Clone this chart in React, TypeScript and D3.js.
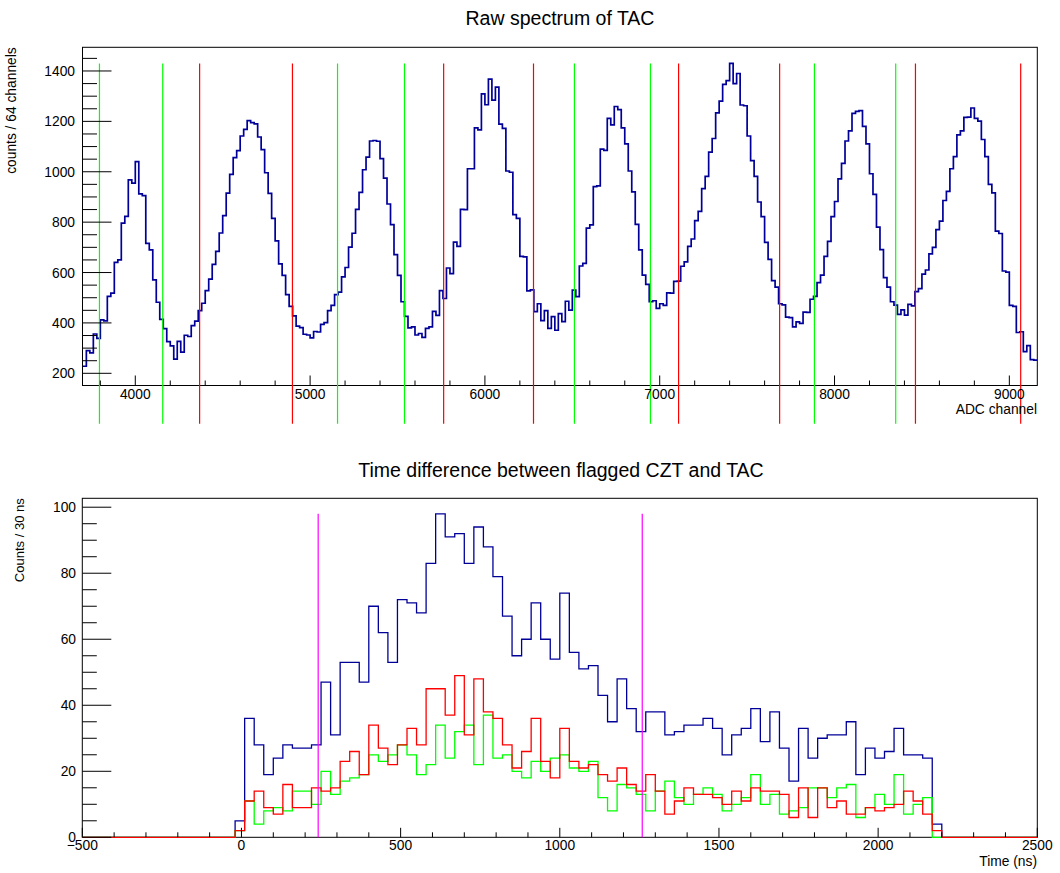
import React from 'react';
import * as d3 from 'd3';

// Raw TAC spectrum, 20 ADC channels per stored bin, first bin starts at 3700
const SPEC_START = 3700;
const SPEC_BIN = 20;
const specCounts: number[] = [
  228, 290, 281, 356, 339, 412, 408, 505, 518, 640,
  650, 796, 823, 968, 955, 1040, 912, 905, 716, 690,
  571, 482, 414, 377, 326, 309, 256, 327, 284, 351,
  346, 389, 407, 449, 478, 528, 574, 632, 684, 757,
  826, 915, 990, 1056, 1084, 1142, 1168, 1203, 1195, 1190,
  1138, 1088, 996, 914, 815, 726, 634, 589, 512, 466,
  428, 387, 381, 355, 352, 341, 366, 364, 394, 401,
  449, 470, 512, 522, 583, 620, 701, 756, 851, 918,
  1008, 1058, 1122, 1124, 1121, 1052, 975, 872, 790, 671,
  589, 484, 426, 380, 384, 352, 358, 343, 378, 384,
  446, 430, 528, 497, 618, 596, 721, 704, 851, 850,
  1012, 1012, 1174, 1166, 1309, 1266, 1368, 1284, 1336, 1189,
  1172, 1003, 998, 830, 815, 664, 662, 527, 531, 445,
  476, 409, 449, 378, 425, 371, 437, 405, 486, 451,
  530, 504, 626, 636, 776, 789, 941, 944, 1090, 1085,
  1212, 1186, 1259, 1247, 1174, 1111, 1003, 920, 791, 690,
  590, 553, 484, 488, 458, 476, 470, 519, 518, 565,
  566, 625, 642, 704, 733, 806, 843, 933, 982, 1078,
  1132, 1234, 1280, 1347, 1362, 1430, 1350, 1390, 1265, 1262,
  1142, 1044, 982, 880, 822, 720, 652, 568, 542, 476,
  472, 423, 421, 384, 404, 398, 443, 442, 494, 505,
  560, 590, 664, 724, 822, 882, 972, 1033, 1122, 1162,
  1232, 1240, 1243, 1180, 1111, 992, 910, 780, 691, 580,
  542, 484, 471, 434, 452, 431, 474, 468, 524, 536,
  594, 610, 674, 700, 770, 804, 886, 922, 1012, 1060,
  1146, 1162, 1216, 1217, 1253, 1212, 1201, 1128, 1060, 950,
  916, 764, 755, 606, 602, 470, 466, 362, 365, 286,
  310, 254, 252,
];

// cut positions drawn on top of the spectrum
const greenCuts = [3795, 4157, 5157, 5540, 6512, 6947, 7885, 8350];
const redCuts = [4368, 4899, 5764, 6278, 7108, 7686, 8463, 9065];

const specXTicks = [4000, 5000, 6000, 7000, 8000, 9000];
const specYTicks = [200, 400, 600, 800, 1000, 1200, 1400];

// time difference histograms, 30 ns bins, first filled bin starts at -20 ns
const DT_MIN = -500;
const DT_MAX = 2500;
const DT_START = -20;
const DT_BIN = 30;
const dtAll = [
  5, 36, 28, 19, 24, 28, 27, 27, 28, 47,
  31, 53, 53, 47, 70, 62, 53, 72, 71, 68,
  83, 98, 91, 92, 83, 94, 88, 79, 67, 55,
  60, 71, 60, 54, 74, 56, 51, 52, 43, 35,
  48, 39, 32, 38, 38, 31, 32, 34, 34, 36,
  33, 25, 31, 33, 39, 29, 38, 27, 17, 33,
  24, 30, 31, 31, 35, 19, 27, 24, 26, 33,
  25, 25, 24, 4,
];
const dtGreen = [
  2, 11, 4, 8, 9, 8, 14, 14, 10, 20,
  13, 17, 18, 19, 25, 23, 25, 28, 25, 19,
  22, 34, 24, 32, 34, 22, 37, 24, 25, 20,
  18, 23, 20, 24, 25, 21, 20, 23, 12, 8,
  16, 15, 13, 8, 14, 17, 12, 10, 13, 15,
  13, 8, 10, 12, 19, 10, 13, 7, 8, 9,
  15, 15, 12, 15, 16, 6, 9, 13, 10, 19,
  7, 10, 12, 0,
];
const dtRed = [
  2, 11, 14, 9, 7, 16, 9, 9, 15, 14,
  15, 23, 26, 19, 34, 27, 22, 28, 33, 28,
  45, 45, 37, 49, 31, 48, 38, 36, 28, 21,
  26, 36, 23, 18, 33, 23, 21, 22, 19, 17,
  21, 16, 14, 19, 14, 7, 11, 15, 13, 13,
  12, 10, 14, 11, 15, 14, 14, 13, 6, 15,
  6, 15, 9, 11, 7, 7, 9, 8, 9, 10,
  14, 11, 7, 2,
];
const dtWindow = [241, 1259];

const dtXTicks = [-500, 0, 500, 1000, 1500, 2000, 2500];
const dtYTicks = [0, 20, 40, 60, 80, 100];

const FONT = '"Liberation Sans", Arial, Helvetica, sans-serif';
const NAVY = '#000099';

// top pad frame
const T = { left: 82.5, right: 1037.3, top: 47.3, bottom: 385.5 };
// bottom pad frame
const B = { left: 82.3, right: 1037.3, top: 498.3, bottom: 837.3 };

function stepPath(
  start: number, bin: number, counts: number[],
  x: d3.ScaleLinear<number, number>, y: d3.ScaleLinear<number, number>,
) {
  const pts: [number, number][] = counts.map((c, i) => [start + i * bin, c]);
  pts.push([start + counts.length * bin, counts[counts.length - 1]]);
  return d3.line<[number, number]>()
    .x(d => x(d[0]))
    .y(d => y(d[1]))
    .curve(d3.curveStepAfter)(pts) as string;
}

// pad the filled part with empty bins over the whole axis range
function fullHist(counts: number[]) {
  const n = Math.round((DT_MAX - DT_MIN) / DT_BIN);
  const offset = Math.round((DT_START - DT_MIN) / DT_BIN);
  return d3.range(n).map(i => {
    const k = i - offset;
    return k >= 0 && k < counts.length ? counts[k] : 0;
  });
}

export default function App() {
  const x1 = d3.scaleLinear().domain([3698, 9160]).range([T.left, T.right]);
  const y1 = d3.scaleLinear().domain([151.6, 1494]).range([T.bottom, T.top]);
  const x2 = d3.scaleLinear().domain([DT_MIN, DT_MAX]).range([B.left, B.right]);
  const y2 = d3.scaleLinear().domain([0, 102.7]).range([B.bottom, B.top]);

  const specMinorX = d3.range(3800, 9160, 200).filter(v => v % 1000 !== 0);
  const specMinorY = d3.range(200, 1494, 50).filter(v => v % 200 !== 0);
  const dtMinorX = d3.range(-400, 2500, 100).filter(v => v % 500 !== 0);
  const dtMinorY = d3.range(5, 102.7, 5).filter(v => v % 20 !== 0);

  const cutTop = d3.max(specCounts) as number;
  const winTop = d3.max(dtAll) as number;

  const text = { fontFamily: FONT, fill: '#000' } as const;

  return (
    <div style={{ position: 'absolute', left: 0, top: 0 }}>
      <svg width={1060} height={873} style={{ display: 'block', background: '#fff' }}>
        {/* ---------- top pad ---------- */}
        <text x={560} y={25} textAnchor="middle" fontSize={19.5} {...text}>Raw spectrum of TAC</text>

        <rect x={T.left} y={T.top} width={T.right - T.left} height={T.bottom - T.top} fill="none" stroke="#000" strokeWidth={1} />

        <path d={stepPath(SPEC_START, SPEC_BIN, specCounts, x1, y1)} fill="none" stroke={NAVY} strokeWidth={1.7} />

        {greenCuts.map(v => (
          <line key={'g' + v} x1={x1(v)} x2={x1(v)} y1={y1(cutTop)} y2={y1(0)} stroke="#00ff00" strokeWidth={1.2} />
        ))}
        {redCuts.map(v => (
          <line key={'r' + v} x1={x1(v)} x2={x1(v)} y1={y1(cutTop)} y2={y1(0)} stroke="#ff0000" strokeWidth={1.2} />
        ))}

        {specXTicks.map(v => (
          <g key={'sx' + v}>
            <line x1={x1(v)} x2={x1(v)} y1={T.bottom} y2={T.bottom - 10} stroke="#000" />
            <text x={x1(v)} y={399} textAnchor="middle" fontSize={13.8} {...text}>{v}</text>
          </g>
        ))}
        {specMinorX.map(v => (
          <line key={'smx' + v} x1={x1(v)} x2={x1(v)} y1={T.bottom} y2={T.bottom - 5} stroke="#000" />
        ))}
        {specYTicks.map(v => (
          <g key={'sy' + v}>
            <line x1={T.left} x2={T.left + 29} y1={y1(v)} y2={y1(v)} stroke="#000" />
            <text x={75} y={y1(v) + 5} textAnchor="end" fontSize={13.8} {...text}>{v}</text>
          </g>
        ))}
        {specMinorY.map(v => (
          <line key={'smy' + v} x1={T.left} x2={T.left + 14.5} y1={y1(v)} y2={y1(v)} stroke="#000" />
        ))}

        <text x={1037} y={414} textAnchor="end" fontSize={13.8} {...text}>ADC channel</text>
        <text transform={`translate(15.5,${T.top}) rotate(-90)`} textAnchor="end" fontSize={13.8} {...text}>counts / 64 channels</text>

        {/* ---------- bottom pad ---------- */}
        <text x={561} y={476.5} textAnchor="middle" fontSize={19.5} {...text}>Time difference between flagged CZT and TAC</text>

        <rect x={B.left} y={B.top} width={B.right - B.left} height={B.bottom - B.top} fill="none" stroke="#000" strokeWidth={1} />

        <path d={stepPath(DT_MIN, DT_BIN, fullHist(dtAll), x2, y2)} fill="none" stroke={NAVY} strokeWidth={1.3} />
        <path d={stepPath(DT_MIN, DT_BIN, fullHist(dtGreen), x2, y2)} fill="none" stroke="#00ff00" strokeWidth={1.3} />
        <path d={stepPath(DT_MIN, DT_BIN, fullHist(dtRed), x2, y2)} fill="none" stroke="#ff0000" strokeWidth={1.3} />

        {dtWindow.map(v => (
          <line key={'w' + v} x1={x2(v)} x2={x2(v)} y1={y2(winTop)} y2={y2(0)} stroke="#ff00ff" strokeWidth={1.2} />
        ))}

        {dtXTicks.map(v => (
          <g key={'dx' + v}>
            <line x1={x2(v)} x2={x2(v)} y1={B.bottom} y2={B.bottom - 9.5} stroke="#000" />
            <text x={x2(v)} y={850} textAnchor="middle" fontSize={13.8} {...text}>{v < 0 ? '\u2212' + Math.abs(v) : v}</text>
          </g>
        ))}
        {dtMinorX.map(v => (
          <line key={'dmx' + v} x1={x2(v)} x2={x2(v)} y1={B.bottom} y2={B.bottom - 5} stroke="#000" />
        ))}
        {dtYTicks.map(v => (
          <g key={'dy' + v}>
            <line x1={B.left} x2={B.left + 29} y1={y2(v)} y2={y2(v)} stroke="#000" />
            <text x={76} y={y2(v) + 4.6} textAnchor="end" fontSize={13.8} {...text}>{v}</text>
          </g>
        ))}
        {dtMinorY.map(v => (
          <line key={'dmy' + v} x1={B.left} x2={B.left + 14.5} y1={y2(v)} y2={y2(v)} stroke="#000" />
        ))}

        <text x={1037} y={866} textAnchor="end" fontSize={13.8} {...text}>Time (ns)</text>
        <text transform={`translate(24,${B.top}) rotate(-90)`} textAnchor="end" fontSize={13} {...text}>Counts / 30 ns</text>
      </svg>
    </div>
  );
}
